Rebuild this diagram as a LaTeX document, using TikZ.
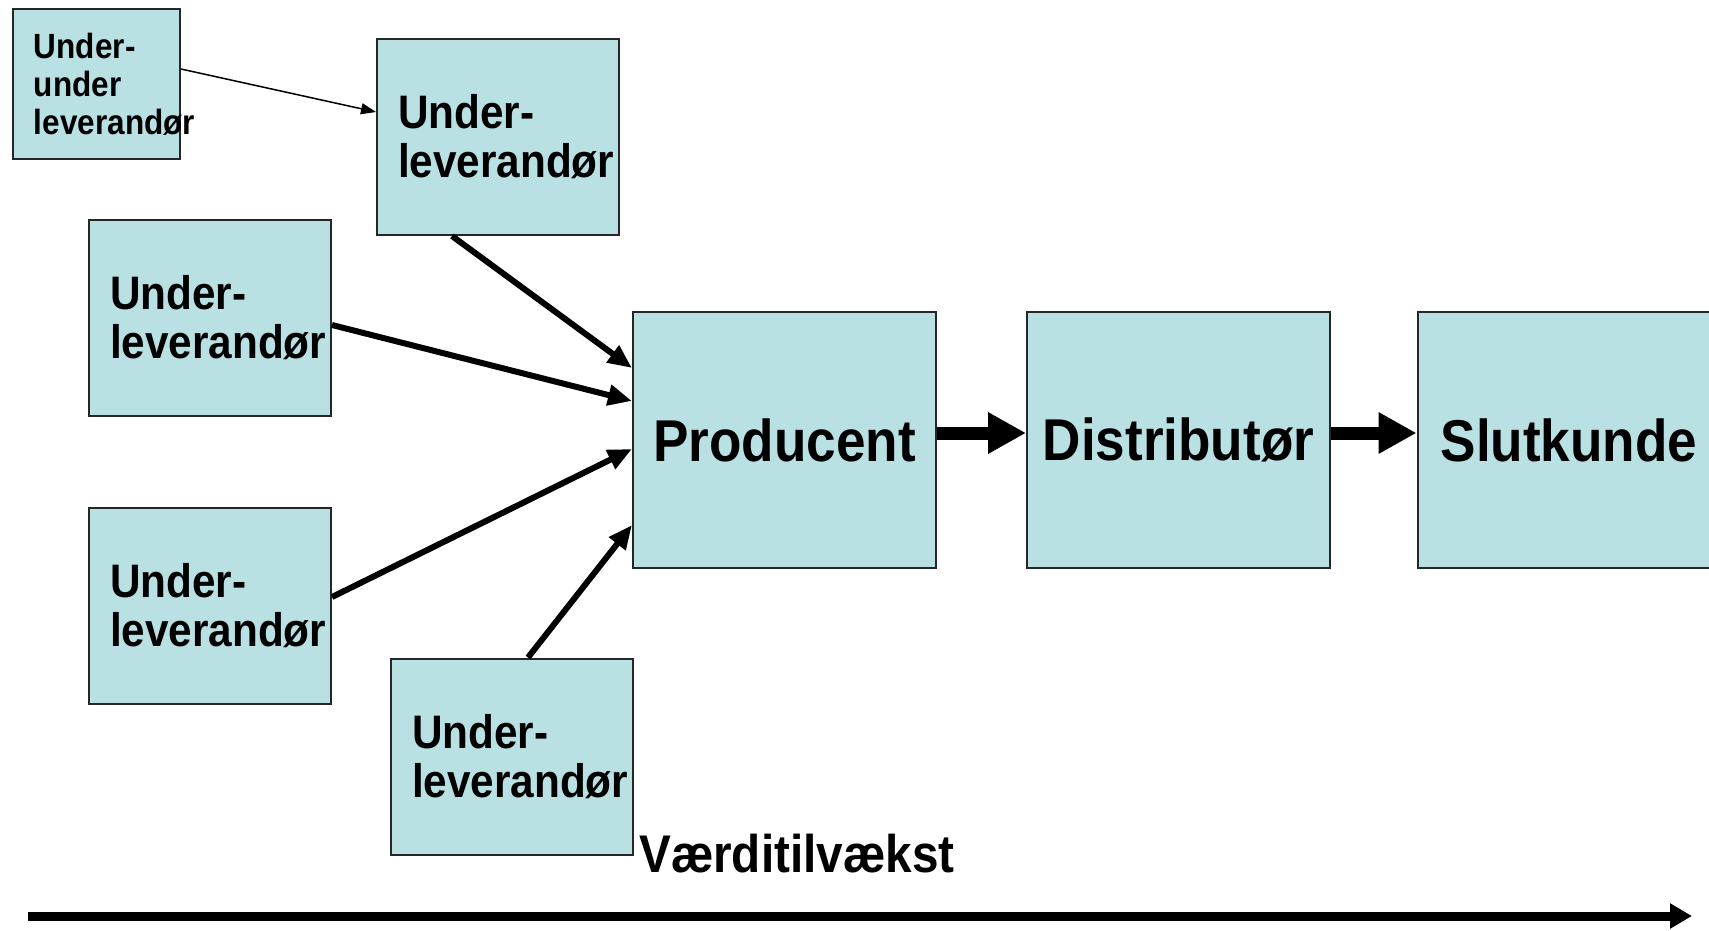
\documentclass[tikz,border=0pt]{standalone}
\usepackage{fontspec}
\setmainfont{Liberation Sans}[FakeStretch=0.9]
\usetikzlibrary{arrows.meta}
\definecolor{boxblue}{RGB}{185,224,227}
\begin{document}
\begin{tikzpicture}[x=1pt, y=-1pt, line join=miter]
  \useasboundingbox (0,0) rectangle (1709,930);
  \tikzset{
    box/.style={rectangle, draw=black!85, line width=2pt, fill=boxblue, inner sep=0pt},
    levbox/.style={box, minimum width=242pt, minimum height=196pt, text width=200pt, inner xsep=21pt, align=left, font=\bfseries\fontsize{47}{49}\selectfont},
    chainbox/.style={box, minimum width=303pt, minimum height=256pt, font=\bfseries\fontsize{59}{64}\selectfont},
    feed/.style={line width=6pt, -{Triangle[length=24pt, width=20pt]}},
    flow/.style={line width=13pt, -{Triangle[length=38pt, width=39pt]}}
  }
  % Sub-sub supplier
  \node [box, minimum width=167pt, minimum height=150pt, text width=125pt, inner xsep=21pt, align=left, font=\bfseries\fontsize{35}{38}\selectfont] (uu) at (96.5,84) {Under-\\under\\\mbox{leverandør}};
  % Suppliers
  \foreach \pos [count=\x] in {{(498,137)}, {(210,318)}, {(210,606)}, {(512,756.5)}}
    \node [levbox] (lev-\x) at \pos {Under-\\\mbox{leverandør}};
  % Value chain
  \node [chainbox] (prod) at (784.5,440) {Producent};
  \node [chainbox] (dist) at (1178.5,440) {Distributør};
  \node [chainbox] (slut) at (1569,440) {Slutkunde};
  % Value axis
  \node [anchor=base west, inner sep=0pt, font=\bfseries\fontsize{53}{60}\selectfont] (gain) at (639,872) {Værditilvækst};
  \coordinate (axis-start) at (28,916);
  \coordinate (axis-end) at (1692,916);
  % Supplier arrows
  \draw [line width=1.5pt, -{Triangle[length=15pt, width=11pt]}] ([yshift=15pt]uu.east) -- ([yshift=25pt]lev-1.west);
  \draw [feed] ([xshift=-46pt]lev-1.south) -- ([yshift=72pt]prod.west);
  \draw [feed] ([yshift=-7pt]lev-2.east) -- ([yshift=39pt]prod.west);
  \draw [feed] ([yshift=9pt]lev-3.east) -- ([yshift=-9pt]prod.west);
  \draw [feed] ([xshift=16pt]lev-4.north) -- ([yshift=-85pt]prod.west);
  % Chain arrows
  \draw [flow] ([yshift=7pt]prod.east) -- ([yshift=7pt]dist.west);
  \draw [flow] ([yshift=7pt]dist.east) -- ([yshift=7pt]slut.west);
  \draw [line width=9pt, -{Triangle[length=22pt, width=24pt]}] (axis-start) -- (axis-end);
\end{tikzpicture}
\end{document}
